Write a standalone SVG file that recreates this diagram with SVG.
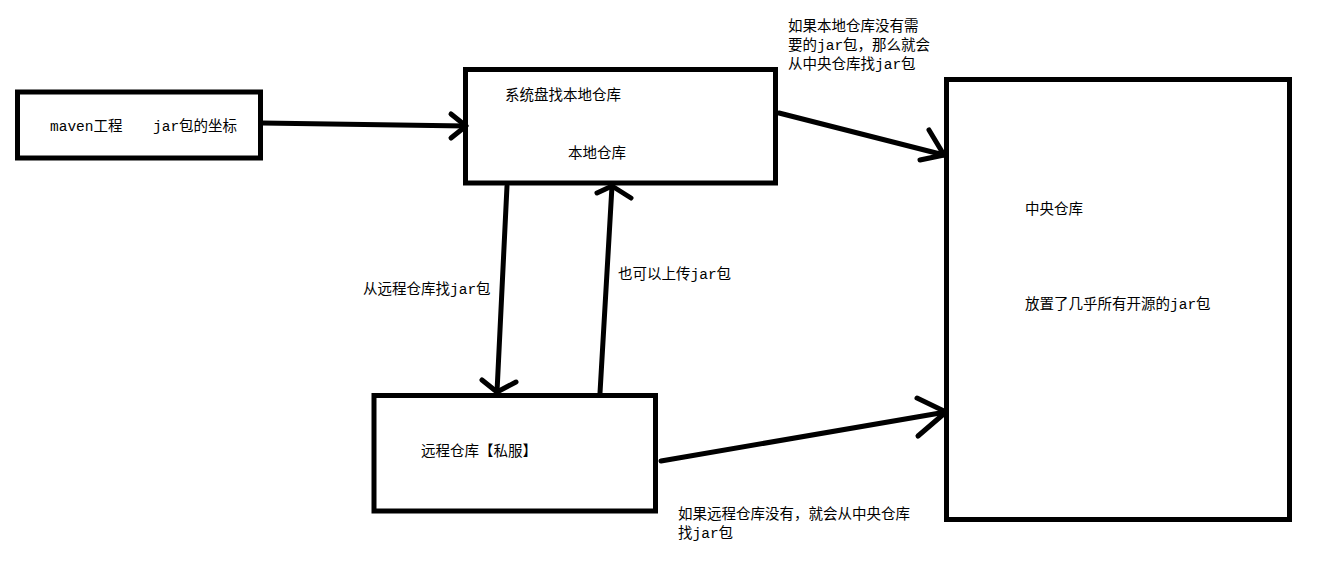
<svg xmlns="http://www.w3.org/2000/svg" width="1321" height="565" viewBox="0 0 1321 565">
<style>
.box{fill:#fff;stroke:#000;stroke-width:5}
.ln{fill:none;stroke:#000;stroke-width:5;stroke-linecap:round;stroke-linejoin:round}
text{font-family:"Liberation Mono","Noto Sans CJK SC",monospace;font-size:14.5px;fill:#000}
</style>
<rect width="1321" height="565" fill="#fff"/>
<g id="maven">
<rect class="box" x="17.5" y="92" width="243" height="66"/>
<text x="50" y="130.5">maven工程<tspan x="153">jar包的坐标</tspan></text>
</g>
<g id="local">
<rect class="box" x="465.5" y="69.5" width="310" height="113.5"/>
<text x="505" y="99.5">系统盘找本地仓库</text>
<text x="568" y="157.5">本地仓库</text>
</g>
<g id="central">
<rect class="box" x="946.5" y="79.5" width="343" height="440"/>
<text x="1025" y="213.5">中央仓库</text>
<text x="1025" y="308.5">放置了几乎所有开源的jar包</text>
</g>
<g id="remote">
<rect class="box" x="374" y="395.5" width="281.5" height="115.5"/>
<text x="421" y="455.5">远程仓库【私服】</text>
</g>
<g id="connectors">
<line class="ln" x1="262" y1="123" x2="466" y2="126"/>
<polyline class="ln" points="451,114 466,126 451,138"/>
<line class="ln" x1="779" y1="113" x2="944" y2="155"/>
<polyline class="ln" points="929,130 944,155 920,160"/>
<line class="ln" x1="507" y1="186" x2="497" y2="392"/>
<polyline class="ln" points="482,380 497,392 516,382"/>
<line class="ln" x1="600" y1="393" x2="612" y2="186"/>
<polyline class="ln" points="597,193 612,186 631,198"/>
<line class="ln" x1="661" y1="461" x2="946" y2="412"/>
<polyline class="ln" points="917,398 946,412 918,436"/>
</g>
<g id="labels">
<text x="788" y="30.5">如果本地仓库没有需</text>
<text x="788" y="49.5">要的jar包，那么就会</text>
<text x="788" y="68.5">从中央仓库找jar包</text>
<text x="363" y="293.5">从远程仓库找jar包</text>
<text x="618" y="278.5">也可以上传jar包</text>
<text x="678" y="518.5">如果远程仓库没有，就会从中央仓库</text>
<text x="678" y="537.5">找jar包</text>
</g>
</svg>
